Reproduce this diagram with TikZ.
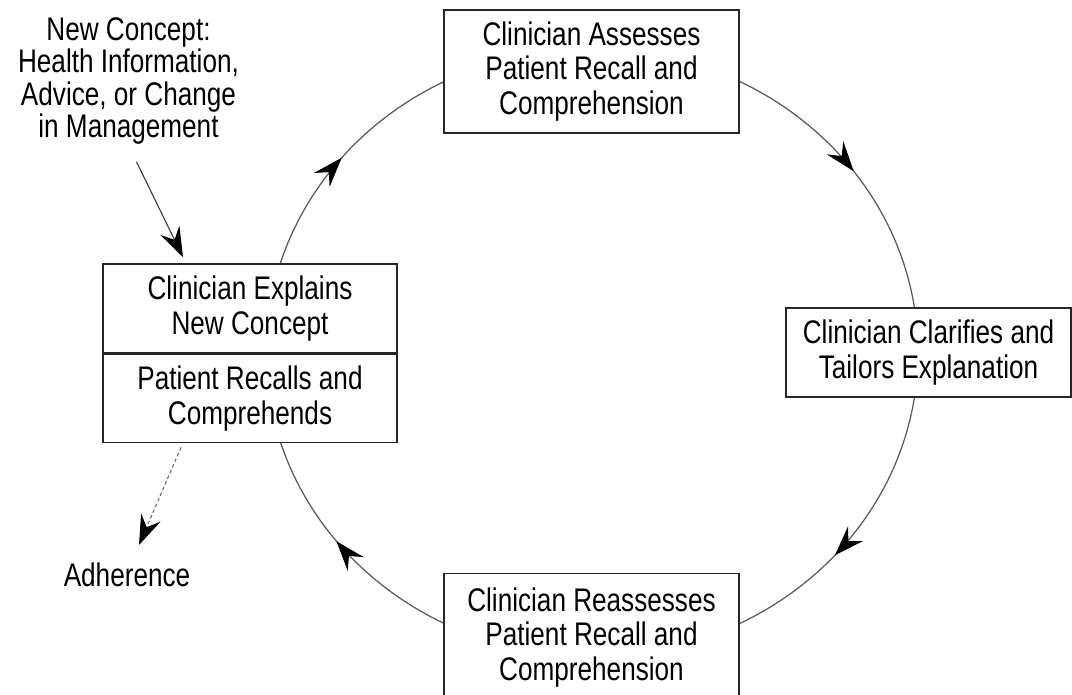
\documentclass[tikz,border=0pt]{standalone}
\usepackage{fontspec}
\setmainfont{Liberation Sans}[FakeStretch=0.8]
\usetikzlibrary{arrows.meta,positioning,decorations.markings}

\tikzset{
	>={Stealth[length=17pt,width=12pt,inset=6pt,color=black]},
	caixa/.style={draw=black!85, line width=0.9pt, fill=white, align=center,
		inner sep=0pt, font=\fontsize{18.6}{19.6}\selectfont},
	texto/.style={align=center, inner sep=0pt, font=\fontsize{18.6}{18.5}\selectfont},
	anel/.style={draw=black!65, line width=0.7pt},
	fluxo/.style={postaction={decorate},
		decoration={markings, mark=at position #1 with {\arrow{>}}}},
}

\begin{document}
\begin{tikzpicture}[x=0.02cm, y=0.02cm]
	\useasboundingbox (0,0) rectangle (1072,-694);

% arcos do ciclo
	\coordinate (ring) at (592,-352.5);
	\draw[anel, fluxo=0.5] (ring) ++(165:326 and 304) arc[start angle=165, end angle=116, x radius=326, y radius=304];
	\draw[anel, fluxo=0.48] (ring) ++(64:326 and 304) arc[start angle=64, end angle=6, x radius=326, y radius=304];
	\draw[anel, fluxo=0.61] (ring) ++(-6:326 and 304) arc[start angle=-6, end angle=-64, x radius=326, y radius=304];
	\draw[anel, fluxo=0.53] (ring) ++(-116:326 and 304) arc[start angle=-116, end angle=-165, x radius=326, y radius=304];

% caixas do ciclo
	\node[caixa, minimum width=5.9cm, minimum height=2.46cm] (assess) at (591.5,-71.5)
		{Clinician Assesses\\Patient Recall and\\Comprehension};
	\node[caixa, minimum width=5.7cm, minimum height=1.78cm] (clarify) at (928.5,-352.5)
		{Clinician Clarifies and\\Tailors Explanation};
	\node[caixa, minimum width=5.9cm, minimum height=2.56cm] (reassess) at (591.5,-637.5)
		{Clinician Reassesses\\Patient Recall and\\Comprehension};
	\node[caixa, minimum width=5.88cm, minimum height=1.78cm] (explain) at (250,-308.5)
		{Clinician Explains\\New Concept};
	\node[caixa, minimum width=5.88cm, minimum height=1.76cm, below=0pt of explain] (recall)
		{Patient Recalls and\\Comprehends};

% entrada e saida
	\node[texto, anchor=north] (concept) at (128.5,-17)
		{New Concept:\\Health Information,\\Advice, or Change\\in Management};
	\node[texto, anchor=base] (adherence) at (127,-586) {Adherence};

	\draw[->, draw=black!80, line width=0.6pt] ([shift={(8,-17)}]concept.south) -- ([shift={(-67,6)}]explain.north);
	\draw[->, draw=black!60, line width=0.6pt, dash pattern=on 2pt off 1.5pt] ([shift={(-69,-4)}]recall.south) -- ([shift={(12,17)}]adherence.north);

\end{tikzpicture}
\end{document}
